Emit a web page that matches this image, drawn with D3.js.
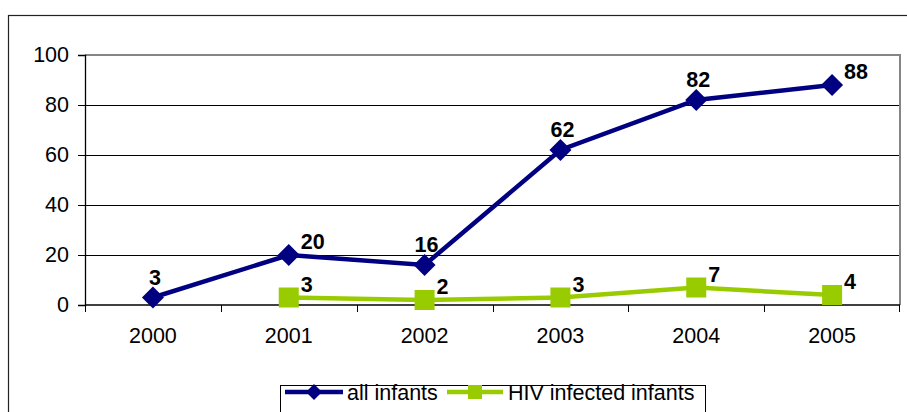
<!DOCTYPE html>
<html>
<head>
<meta charset="utf-8">
<script src="https://cdn.jsdelivr.net/npm/d3@7"></script>
<style>
  body { margin: 0; background: #fff; }
  svg { display: block; font-family: "Liberation Sans", Arial, sans-serif; }
</style>
</head>
<body>
<div id="chart"></div>
<script>
const width = 907,
height = 412,
margin = { top: 55, right: 7, bottom: 107, left: 85 },
fontSize = 21.5;

// data
const years = ["2000", "2001", "2002", "2003", "2004", "2005"];
const allInfants = [3, 20, 16, 62, 82, 88];
const hivInfants = [null, 3, 2, 3, 7, 4];
const allLabelPos = ["above", "right", "above", "above", "above", "right"];
const yTicks = [0, 20, 40, 60, 80, 100];

const navy = "#000080",
lime = "#99CC00";

const svg = d3.select("#chart")
  .append("svg")
  .attr("width", width)
  .attr("height", height);

// outer chart border
svg.append("rect")
  .attr("x", 8.5)
  .attr("y", 15.5)
  .attr("width", 920)
  .attr("height", 420)
  .attr("fill", "none")
  .attr("stroke", "#222")
  .attr("stroke-width", 1.2);

const innerW = width - margin.left - margin.right,
innerH = height - margin.top - margin.bottom;

const x = d3.scaleBand().domain(years).range([0, innerW]);
const y = d3.scaleLinear().domain([0, 100]).range([innerH, 0]);
const cx = d => x(d) + x.bandwidth() / 2;

const g = svg.append("g")
  .attr("transform", "translate(" + margin.left + "," + margin.top + ")");

// gridlines
g.selectAll(".grid")
  .data(yTicks.filter(t => t > 0 && t < 100))
  .join("line")
  .attr("class", "grid")
  .attr("x1", 0)
  .attr("x2", innerW)
  .attr("y1", d => Math.round(y(d)) + 0.5)
  .attr("y2", d => Math.round(y(d)) + 0.5)
  .attr("stroke", "#000")
  .attr("stroke-width", 1);

// plot area border (top and right in gray)
g.append("path")
  .attr("d", "M0," + y(100) + "H" + innerW + "V" + innerH)
  .attr("fill", "none")
  .attr("stroke", "#858585")
  .attr("stroke-width", 2);

// y axis
const yAxis = g.append("g")
  .call(d3.axisLeft(y).tickValues(yTicks).tickSize(7).tickPadding(9));
yAxis.select(".domain").attr("stroke", "#000").attr("stroke-width", 1.3);
yAxis.selectAll("line").attr("stroke", "#000");
yAxis.selectAll("text")
  .attr("font-size", fontSize)
  .attr("fill", "#000")
  .attr("font-family", "Liberation Sans, Arial, sans-serif");

// x axis: ticks between categories
const xAxis = g.append("g")
  .attr("transform", "translate(0," + innerH + ")");
xAxis.append("line")
  .attr("x1", 0)
  .attr("x2", innerW)
  .attr("stroke", "#000")
  .attr("stroke-width", 1.5);
xAxis.selectAll(".xtick")
  .data(years.concat(["end"]))
  .join("line")
  .attr("class", "xtick")
  .attr("x1", (d, i) => i < years.length ? Math.round(x(d)) + 0.5 : innerW - 0.5)
  .attr("x2", (d, i) => i < years.length ? Math.round(x(d)) + 0.5 : innerW - 0.5)
  .attr("y1", 0)
  .attr("y2", 7)
  .attr("stroke", "#000");
xAxis.selectAll(".xlab")
  .data(years)
  .join("text")
  .attr("class", "xlab")
  .attr("x", d => cx(d))
  .attr("y", 38)
  .attr("text-anchor", "middle")
  .attr("font-size", fontSize)
  .text(d => d);

const line = d3.line()
  .defined(d => d.v !== null)
  .x(d => cx(d.year))
  .y(d => y(d.v));

const allData = years.map((yr, i) => ({ year: yr, v: allInfants[i], pos: allLabelPos[i] }));
const hivData = years.map((yr, i) => ({ year: yr, v: hivInfants[i], pos: "right" }))
  .filter(d => d.v !== null);

// HIV series
g.append("path")
  .datum(hivData)
  .attr("d", line)
  .attr("fill", "none")
  .attr("stroke", lime)
  .attr("stroke-width", 4.5);

// all infants series
g.append("path")
  .datum(allData)
  .attr("d", line)
  .attr("fill", "none")
  .attr("stroke", navy)
  .attr("stroke-width", 4.5);

g.selectAll(".sq")
  .data(hivData)
  .join("rect")
  .attr("class", "sq")
  .attr("x", d => cx(d.year) - 10)
  .attr("y", d => y(d.v) - 10)
  .attr("width", 20)
  .attr("height", 20)
  .attr("fill", lime);

g.selectAll(".dia")
  .data(allData)
  .join("path")
  .attr("class", "dia")
  .attr("d", d => {
    const px = cx(d.year), py = y(d.v), r = 11;
    return "M" + px + "," + (py - r) + "L" + (px + r) + "," + py +
      "L" + px + "," + (py + r) + "L" + (px - r) + "," + py + "Z";
  })
  .attr("fill", navy);

// data labels
function labels(data, cls) {
  g.selectAll("." + cls)
    .data(data)
    .join("text")
    .attr("class", cls)
    .attr("font-size", fontSize)
    .attr("font-weight", "bold")
    .attr("x", d => d.pos === "above" ? cx(d.year) + 2 : cx(d.year) + 12)
    .attr("y", d => d.pos === "above" ? y(d.v) - 13 : y(d.v) - 6)
    .attr("text-anchor", d => d.pos === "above" ? "middle" : "start")
    .text(d => d.v);
}
labels(allData, "lab-all");
labels(hivData, "lab-hiv");

// legend
const leg = svg.append("g").attr("transform", "translate(280,385)");
leg.append("rect")
  .attr("x", 0.5)
  .attr("y", 0.5)
  .attr("width", 425)
  .attr("height", 30)
  .attr("fill", "#fff")
  .attr("stroke", "#000");

const legendItems = [
  { name: "all infants", color: navy, shape: "diamond", x0: 5, x1: 63, tx: 67 },
  { name: "HIV infected infants", color: lime, shape: "square", x0: 167, x1: 223, tx: 228 }
];
legendItems.forEach(it => {
  leg.append("line")
    .attr("x1", it.x0).attr("x2", it.x1)
    .attr("y1", 7).attr("y2", 7)
    .attr("stroke", it.color)
    .attr("stroke-width", 4.5);
  const mx = (it.x0 + it.x1) / 2;
  if (it.shape === "diamond") {
    leg.append("path")
      .attr("d", "M" + mx + ",-1L" + (mx + 8) + ",7L" + mx + ",15L" + (mx - 8) + ",7Z")
      .attr("fill", it.color);
  } else {
    leg.append("rect")
      .attr("x", mx - 7).attr("y", 0).attr("width", 14).attr("height", 14)
      .attr("fill", it.color);
  }
  leg.append("text")
    .attr("x", it.tx)
    .attr("y", 15)
    .attr("font-size", fontSize)
    .text(it.name);
});
</script>
</body>
</html>
